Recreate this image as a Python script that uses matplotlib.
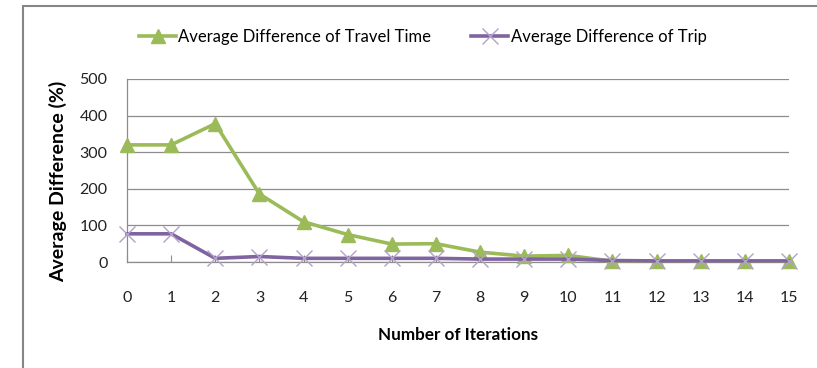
import matplotlib
matplotlib.use("Agg")
import matplotlib.pyplot as plt
from matplotlib.patches import Rectangle

iterations = list(range(16))
travel_time_diff = [320, 320, 378, 186, 110, 75, 49, 50, 27, 16, 18, 2, 2, 2, 2, 2]
trip_diff = [77, 77, 10, 15, 10, 10, 10, 10, 8, 8, 8, 4, 3, 3, 3, 3]
y_ticks = [0, 100, 200, 300, 400, 500]

GREEN = "#9BBB59"
PURPLE = "#8064A2"
LAVENDER = "#B3A2C7"
GRID = "#8C8C8C"

font = "Lato"

fig = plt.figure(figsize=(8.17, 3.68), dpi=100)
fig.patch.set_facecolor("white")

# outer chart frame
fig.patches.append(Rectangle((23 / 817, -0.05), 1.0, 1 - 6 / 368 + 0.05,
                             transform=fig.transFigure, fill=False,
                             edgecolor="#868686", linewidth=1.5))

ax = fig.add_axes([127 / 817, 1 - 262 / 368, (789 - 127) / 817, (262 - 79) / 368])

ax.plot(iterations, travel_time_diff, color=GREEN, linewidth=2.6,
        marker="^", markersize=10, markerfacecolor=GREEN, markeredgecolor=GREEN,
        label="Average Difference of Travel Time", zorder=3, clip_on=False)
ax.plot(iterations, trip_diff, color=PURPLE, linewidth=2.6,
        marker="x", markersize=11, markeredgecolor=LAVENDER, markeredgewidth=1.0,
        label="Average Difference of Trip", zorder=4, clip_on=False)

ax.set_xlim(0, 15)
ax.set_ylim(0, 500)
ax.set_xticks(iterations)
ax.set_yticks(y_ticks)
ax.yaxis.grid(True, color=GRID, linewidth=0.9)
ax.set_axisbelow(True)

for side in ("top", "right"):
    ax.spines[side].set_visible(False)
for side in ("left", "bottom"):
    ax.spines[side].set_color(GRID)
    ax.spines[side].set_linewidth(0.9)

ax.tick_params(axis="x", direction="in", length=5, color=GRID, pad=21,
               labelsize=11.5)
ax.tick_params(axis="y", length=0, pad=14, labelsize=11.5)
for lab in ax.get_xticklabels() + ax.get_yticklabels():
    lab.set_fontfamily(font)
    lab.set_color("#222222")

ax.set_xlabel("Number of Iterations", fontfamily=font, fontweight="bold",
              fontsize=12.3, labelpad=16)
ax.set_ylabel("Average Difference (%)", fontfamily=font, fontweight="bold",
              fontsize=14)
ax.yaxis.set_label_coords(-0.091, 0.44)

leg = ax.legend(loc="center", bbox_to_anchor=(0.447, 1.23), ncol=2, frameon=False,
                handlelength=2.2, handletextpad=0.15, columnspacing=2.4,
                prop={"family": font, "size": 12})

fig.savefig("out.png", dpi=100, facecolor="white")
